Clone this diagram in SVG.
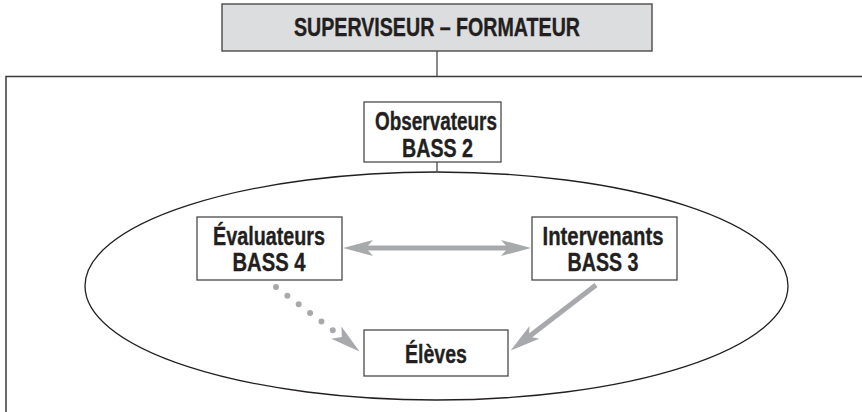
<svg xmlns="http://www.w3.org/2000/svg" width="862" height="412" viewBox="0 0 862 412">
  <style>
    .box { fill: #ffffff; stroke: #4a4a4a; stroke-width: 1.3; }
    .head { fill: #dcddde; stroke: #4a4a4a; stroke-width: 1.4; }
    .lbl { font-family: "Liberation Sans", Arial, sans-serif; font-weight: bold; font-size: 25px; fill: #231f20; stroke: #231f20; stroke-width: 0.35; text-anchor: middle; }
    .thin { stroke: #4a4a4a; stroke-width: 1.3; fill: none; }
    .arrow { stroke: #a7a9ac; stroke-width: 5; fill: none; }
    .dots { stroke: #a7a9ac; stroke-width: 6; stroke-linecap: round; stroke-dasharray: 0 14.28; fill: none; }
  </style>
  <defs>
    <marker id="ah" markerUnits="userSpaceOnUse" markerWidth="32" markerHeight="20" refX="10" refY="10" orient="auto-start-reverse">
      <path d="M0,2 L30,10 L0,18 L7,10 z" fill="#a7a9ac"/>
    </marker>
  </defs>

  <rect id="frame" x="6" y="76.5" width="880" height="400" fill="none" stroke="#3a3a3a" stroke-width="1.5"/>
  <ellipse id="groupe" cx="436.5" cy="286" rx="351.5" ry="114" fill="none" stroke="#231f20" stroke-width="1.3"/>

  <g id="connectors">
    <line class="thin" x1="437" y1="51" x2="437" y2="76.5"/>
    <line class="thin" x1="437" y1="162" x2="437" y2="172"/>
    <line class="arrow" x1="363" y1="248" x2="511" y2="248" marker-start="url(#ah)" marker-end="url(#ah)"/>
    <line class="arrow" x1="596" y1="285" x2="526.5" y2="338.4" marker-end="url(#ah)"/>
    <path class="dots" d="M276,287 L344.1,338.9"/>
    <line x1="343" y1="338" x2="344.1" y2="338.9" stroke="none" stroke-width="5" marker-end="url(#ah)"/>
  </g>

  <g id="superviseur">
    <rect class="head" x="222" y="4" width="430" height="47"/>
    <text class="lbl" x="437" y="35.5" textLength="286" lengthAdjust="spacingAndGlyphs">SUPERVISEUR – FORMATEUR</text>
  </g>

  <g id="observateurs">
    <rect class="box" x="364" y="102" width="137" height="60"/>
    <text class="lbl" x="436" y="129.5" textLength="122" lengthAdjust="spacingAndGlyphs">Observateurs</text>
    <text class="lbl" x="437.5" y="156.5" textLength="71" lengthAdjust="spacingAndGlyphs">BASS 2</text>
  </g>

  <g id="evaluateurs">
    <rect class="box" x="197" y="217" width="145" height="63"/>
    <text class="lbl" x="269" y="244.5" textLength="112" lengthAdjust="spacingAndGlyphs">Évaluateurs</text>
    <text class="lbl" x="269" y="270.5" textLength="73" lengthAdjust="spacingAndGlyphs">BASS 4</text>
  </g>

  <g id="intervenants">
    <rect class="box" x="532" y="217" width="145" height="63"/>
    <text class="lbl" x="603" y="244.5" textLength="121" lengthAdjust="spacingAndGlyphs">Intervenants</text>
    <text class="lbl" x="603" y="270.5" textLength="71" lengthAdjust="spacingAndGlyphs">BASS 3</text>
  </g>

  <g id="eleves">
    <rect class="box" x="364" y="330" width="144" height="46"/>
    <text class="lbl" x="436" y="362.5" textLength="62" lengthAdjust="spacingAndGlyphs">Élèves</text>
  </g>
</svg>
